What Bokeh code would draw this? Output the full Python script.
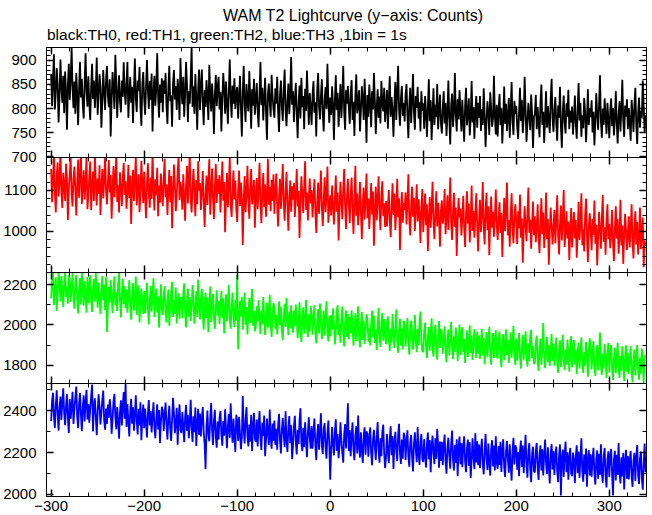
from bokeh.plotting import figure
from bokeh.layouts import column
from bokeh.models import LinearAxis, FixedTicker, Range1d, ColumnDataSource, CustomJSTickFormatter, Div
from bokeh.embed import file_html
from bokeh.resources import INLINE

# time grid (s): one value per 1 s bin, starting at -300
T_START = -300
T_STEP = 1

th0 = [
    872, 805, 861, 913, 798, 833, 884, 850, 771, 826, 902, 845, 812, 868, 790, 877, 835, 756, 849, 893,
    818, 861, 927, 842, 801, 856, 789, 874, 830, 765, 841, 897, 823, 862, 808, 779, 852, 915, 836, 804,
    867, 812, 776, 845, 893, 820, 858, 801, 838, 906, 787, 829, 871, 846, 760, 815, 880, 833, 797, 859,
    889, 826, 803, 861, 742, 818, 876, 840, 799, 912, 852, 781, 831, 869, 815, 792, 858, 824, 896, 837,
    808, 853, 897, 781, 829, 866, 812, 845, 770, 838, 904, 821, 793, 858, 836, 887, 803, 764, 849, 876,
    821, 787, 845, 901, 838, 799, 857, 818, 873, 752, 830, 868, 806, 842, 915, 824, 781, 850, 812, 863,
    792, 858, 831, 874, 805, 768, 843, 889, 815, 827, 762, 851, 880, 819, 846, 797, 862, 834, 776, 905,
    841, 809, 866, 783, 825, 897, 851, 772, 836, 810, 862, 928, 803, 847, 789, 872, 822, 756, 838, 881,
    797, 846, 881, 812, 765, 838, 803, 859, 824, 776, 891, 830, 794, 852, 817, 747, 829, 870, 805, 843,
    866, 798, 835, 752, 818, 874, 841, 789, 856, 813, 768, 835, 902, 822, 781, 848, 810, 863, 799, 831,
    845, 779, 823, 868, 801, 742, 836, 889, 810, 772, 851, 815, 794, 878, 825, 758, 840, 806, 862, 787,
    818, 853, 796, 761, 832, 897, 807, 843, 775, 821, 864, 790, 735, 829, 852, 811, 783, 870, 826, 799,
    781, 842, 810, 866, 793, 751, 827, 858, 802, 774, 839, 881, 796, 763, 815, 852, 788, 829, 907, 808,
    836, 772, 819, 853, 790, 738, 812, 848, 779, 864, 803, 826, 757, 841, 795, 879, 818, 766, 832, 801,
    766, 829, 857, 791, 813, 742, 838, 874, 805, 777, 826, 861, 788, 752, 819, 845, 799, 893, 814, 770,
    823, 787, 846, 808, 735, 816, 869, 797, 833, 762, 808, 851, 780, 824, 889, 793, 756, 838, 810, 847,
    801, 768, 832, 859, 776, 814, 743, 825, 871, 790, 809, 838, 752, 796, 846, 818, 776, 862, 801, 729,
    828, 783, 850, 812, 761, 836, 798, 874, 815, 747, 803, 840, 781, 825, 769, 857, 811, 794, 843, 772,
    806, 839, 758, 818, 867, 783, 824, 795, 741, 811, 855, 776, 832, 889, 798, 764, 821, 847, 785, 812,
    773, 829, 851, 786, 738, 807, 843, 770, 818, 872, 792, 756, 826, 801, 845, 779, 813, 752, 836, 795,
    811, 758, 826, 792, 741, 803, 861, 774, 817, 734, 789, 842, 765, 808, 782, 851, 757, 796, 829, 770,
    748, 801, 836, 769, 812, 743, 788, 858, 779, 725, 806, 831, 762, 794, 874, 786, 752, 819, 777, 838,
    795, 752, 818, 774, 731, 806, 843, 765, 789, 821, 744, 780, 857, 771, 803, 737, 796, 826, 760, 812,
    781, 826, 753, 799, 766, 842, 788, 720, 773, 815, 790, 745, 834, 801, 762, 779, 868, 784, 746, 808,
    742, 796, 830, 765, 801, 727, 779, 846, 768, 810, 753, 784, 822, 739, 797, 855, 772, 745, 816, 788,
    805, 762, 736, 791, 843, 774, 818, 749, 781, 866, 797, 731, 770, 812, 784, 755, 829, 791, 718, 782,
    789, 828, 757, 803, 771, 740, 812, 850, 766, 793, 728, 781, 836, 760, 805, 774, 749, 819, 862, 779,
    751, 798, 824, 769, 733, 806, 781, 845, 762, 718, 792, 827, 770, 748, 811, 783, 839, 757, 796, 771,
    804, 746, 781, 827, 769, 737, 798, 853, 775, 812, 741, 786, 759, 822, 794, 730, 777, 840, 765, 801,
    782, 817, 750, 793, 723, 771, 832, 788, 756, 808, 869, 774, 739, 800, 766, 821, 785, 747, 812, 778,
    738, 795, 821, 763, 801, 744, 779, 836, 770, 727, 788, 815, 752, 797, 860, 775, 741, 806, 783, 819,
    757, 801, 772, 733, 818, 789, 751, 808, 843, 766, 726, 791, 823, 760, 795, 781, 858, 804, 749, 786,
]

th1 = [
    1152, 1071, 1124, 1189, 1093, 1046, 1137, 1168, 1085, 1120, 1201, 1098, 1057, 1143, 1112, 1074, 1165, 1130, 1028, 1106,
    1139, 1182, 1090, 1061, 1127, 1158, 1102, 1039, 1116, 1175, 1082, 1134, 1195, 1067, 1109, 1149, 1078, 1121, 1186, 1054,
    1087, 1133, 1170, 1052, 1111, 1146, 1074, 1193, 1118, 1063, 1129, 1092, 1161, 1040, 1104, 1152, 1080, 1125, 1183, 1098,
    1066, 1119, 1174, 1095, 1138, 1031, 1101, 1159, 1083, 1127, 1190, 1072, 1113, 1046, 1144, 1108, 1062, 1131, 1167, 1089,
    1123, 1055, 1097, 1162, 1081, 1136, 1018, 1109, 1150, 1074, 1126, 1184, 1063, 1102, 1139, 1047, 1091, 1172, 1115, 1069,
    1145, 1084, 1032, 1118, 1166, 1093, 1058, 1131, 1079, 1197, 1104, 1051, 1127, 1088, 1155, 1037, 1112, 1070, 1141, 1096,
    1062, 1128, 1177, 1083, 1114, 1040, 1103, 1150, 1071, 1135, 1008, 1092, 1163, 1117, 1049, 1086, 1144, 1185, 1076, 1121,
    1101, 1053, 1139, 1087, 1026, 1112, 1160, 1068, 1130, 1194, 1079, 1046, 1108, 1152, 1094, 1037, 1125, 1066, 1171, 1099,
    1118, 1052, 1096, 1147, 1073, 1011, 1089, 1136, 1064, 1122, 1176, 1041, 1097, 1153, 1080, 1030, 1108, 1164, 1069, 1127,
    1092, 1137, 1046, 1104, 1170, 1075, 1121, 998, 1083, 1142, 1059, 1113, 1181, 1067, 1035, 1099, 1148, 1078, 1124, 1056,
    1023, 1101, 1148, 1062, 1119, 1084, 967, 1073, 1135, 1047, 1092, 1160, 1078, 1031, 1110, 1152, 1066, 1096, 1125, 1009,
    1088, 1130, 1054, 1103, 1167, 1071, 1020, 1097, 1142, 1059, 1114, 1036, 1081, 1177, 1065, 1108, 1049, 1126, 1074, 1139,
    1043, 1097, 1141, 1060, 1012, 1085, 1128, 1055, 1107, 1164, 1070, 1026, 1093, 1145, 1063, 1002, 1081, 1124, 1048, 1110,
    1077, 1118, 1035, 1090, 1152, 1061, 1099, 984, 1066, 1134, 1087, 1045, 1113, 1171, 1052, 1095, 1027, 1083, 1129, 1068,
    1101, 1034, 1082, 1127, 1050, 996, 1068, 1119, 1043, 1090, 1148, 1059, 1013, 1076, 1132, 1047, 1094, 1158, 1021, 1065,
    1088, 1039, 1112, 1066, 1017, 1079, 1136, 1048, 1095, 978, 1057, 1121, 1073, 1030, 1105, 1152, 1061, 1006, 1084, 1128,
    1067, 1020, 1089, 1131, 1051, 994, 1074, 1160, 1038, 1092, 1015, 1059, 1120, 1046, 981, 1071, 1107, 1029, 1083, 1141,
    1032, 1080, 1006, 1063, 1118, 1041, 1097, 965, 1052, 1109, 1027, 1076, 1134, 1049, 1003, 1088, 1122, 1037, 1068, 1011,
    1074, 1012, 1058, 1101, 1029, 986, 1063, 1117, 1040, 1092, 1003, 1049, 1128, 1035, 1081, 955, 1046, 1096, 1021, 1069,
    1052, 1095, 1017, 1071, 1139, 1028, 990, 1063, 1109, 1036, 1082, 1001, 1057, 1115, 1024, 1078, 1043, 972, 1060, 1103,
    998, 1047, 1092, 1015, 1066, 952, 1031, 1084, 1009, 1057, 1121, 1025, 981, 1043, 1098, 1012, 1070, 1029, 963, 1052,
    1076, 1019, 1041, 1103, 993, 1037, 1088, 1004, 1062, 1131, 1022, 979, 1049, 1094, 1011, 1058, 940, 1028, 1081, 1035,
    1056, 990, 1033, 1087, 1007, 962, 1045, 1098, 1019, 1068, 973, 1026, 1112, 1001, 1050, 985, 1039, 1093, 1014, 951,
    1030, 1077, 998, 1042, 1120, 1011, 968, 1053, 1094, 1003, 1061, 942, 1024, 1085, 1009, 1048, 987, 1036, 1102, 1017,
    979, 1031, 1071, 996, 1045, 938, 1013, 1082, 1001, 1054, 1119, 990, 1027, 963, 1040, 1093, 1008, 971, 1036, 1066,
    1022, 969, 1049, 1008, 1090, 985, 1032, 924, 1004, 1061, 1015, 976, 1043, 1107, 997, 1029, 958, 1018, 1073, 991,
    1037, 974, 1011, 1066, 985, 947, 1024, 1081, 993, 1046, 960, 1003, 1095, 981, 1030, 919, 999, 1058, 1014, 968,
    1009, 1052, 971, 1027, 1088, 990, 944, 1019, 1063, 978, 1035, 1101, 962, 1004, 1049, 983, 1024, 930, 996, 1057,
    961, 1015, 1047, 983, 1028, 936, 995, 1072, 979, 1021, 1093, 967, 1006, 951, 1039, 1080, 990, 925, 1012, 1044,
    1003, 954, 1031, 992, 1075, 970, 1016, 917, 986, 1048, 1002, 958, 1034, 1089, 975, 1010, 943, 1025, 1066, 981,
    1018, 959, 997, 1052, 972, 928, 1006, 1061, 983, 1030, 946, 991, 1077, 966, 1015, 921, 989, 1043, 1004, 955,
    992, 1037, 961, 1008, 1066, 975, 934, 1012, 1049, 968, 1023, 944, 987, 1058, 957, 999, 1034, 913, 978, 964,
]

th2 = [
    2132, 2221, 2257, 2098, 2184, 2236, 2069, 2158, 2262, 2201, 2117, 2243, 2165, 2088, 2212, 2260, 2139, 2190, 2105, 2248,
    2226, 2114, 2187, 2262, 2143, 2081, 2205, 2249, 2128, 2057, 2176, 2233, 2102, 2258, 2190, 2095, 2217, 2150, 2061, 2239,
    2108, 2197, 2248, 2126, 2064, 2181, 2229, 2117, 2262, 2153, 2086, 2210, 2141, 2055, 2174, 2243, 2122, 2199, 2073, 2236,
    1965, 2090, 2189, 2112, 2224, 2146, 2058, 2171, 2241, 2097, 2162, 2069, 2203, 2258, 2118, 2037, 2155, 2230, 2104, 2193,
    2083, 2175, 2061, 2144, 2222, 2098, 2026, 2156, 2207, 2071, 2129, 2240, 2049, 2138, 2195, 2013, 2102, 2181, 2119, 2055,
    2168, 2057, 2133, 2209, 2084, 2003, 2122, 2194, 2066, 2149, 2232, 2038, 2127, 2180, 2062, 2141, 1987, 2105, 2201, 2076,
    2049, 2146, 2193, 2067, 2012, 2118, 2176, 1996, 2092, 2163, 2214, 2040, 2124, 2055, 2185, 2008, 2099, 2157, 2031, 2137,
    2131, 2033, 2154, 2206, 2058, 1988, 2107, 2181, 2041, 2139, 2020, 2090, 2198, 2119, 2006, 2074, 2167, 2039, 2225, 2096,
    2027, 2128, 2179, 2052, 1977, 2100, 2161, 2035, 2136, 1964, 2083, 2190, 2013, 2109, 2154, 2031, 1981, 2094, 2172, 2046,
    2118, 2004, 2088, 2168, 2036, 2131, 1958, 2073, 2152, 2017, 2109, 2199, 2027, 1982, 2091, 2160, 2042, 1990, 2123, 2021,
    2250, 1880, 2019, 2120, 2041, 2140, 1976, 2068, 2161, 2002, 2089, 1953, 2055, 2133, 2010, 2101, 2178, 1996, 2072, 1969,
    1991, 2093, 2018, 2124, 2037, 1956, 2071, 2003, 2139, 2044, 1950, 2012, 2111, 1986, 2060, 2150, 2008, 1941, 2052, 2108,
    2087, 1981, 2050, 1953, 2021, 2117, 1999, 2090, 1972, 1925, 2043, 2105, 1990, 2134, 2031, 1949, 2066, 1984, 2098, 2010,
    1962, 2071, 1994, 2101, 2026, 1935, 2012, 2113, 1978, 1916, 2040, 2088, 1957, 2019, 2124, 1983, 1941, 2052, 1969, 2093,
    2061, 1952, 2029, 2097, 1971, 1909, 2015, 2079, 1958, 2106, 2020, 1930, 1998, 2072, 1947, 2038, 2117, 1966, 1918, 2046,
    1944, 2049, 1976, 2083, 2009, 1903, 1961, 2068, 2098, 1950, 2005, 1912, 2026, 2091, 1969, 1894, 2014, 2072, 1941, 2054,
    1930, 2039, 1957, 2073, 1992, 1897, 1970, 2058, 1921, 2006, 2092, 1948, 1889, 1998, 2064, 1926, 2021, 1906, 1969, 2053,
    2031, 1917, 1983, 1898, 2002, 2071, 1938, 2046, 1911, 1977, 1875, 1996, 2085, 1930, 1891, 2005, 2060, 1922, 2029, 1947,
    1905, 2012, 2043, 1929, 1872, 1981, 1913, 2054, 1961, 1886, 1979, 2076, 1920, 1862, 1966, 2031, 1898, 1984, 1879, 2021,
    2004, 1893, 1958, 2035, 1912, 1853, 1960, 2022, 1968, 1877, 1933, 2049, 1914, 1865, 1981, 1898, 2013, 2066, 1917, 1869,
    1867, 1975, 2012, 1889, 1836, 1944, 1990, 1873, 1958, 2033, 1881, 1843, 1949, 2001, 1912, 1828, 1953, 2019, 1886, 1980,
    1966, 1857, 1935, 1993, 1872, 1815, 1926, 1978, 1849, 1937, 2016, 1878, 1830, 1944, 1866, 1987, 1921, 1822, 1903, 2002,
    1850, 1958, 1989, 1865, 1932, 1812, 1898, 1973, 1842, 1925, 1998, 1860, 1946, 1827, 1893, 1980, 1911, 1836, 1967, 1858,
    1948, 1833, 1909, 1981, 1849, 1936, 1806, 1891, 1965, 1840, 1918, 1991, 1856, 1803, 1912, 1960, 1836, 1923, 1975, 1846,
    1834, 1939, 1967, 1844, 1791, 1902, 1955, 1826, 1910, 1978, 1851, 1926, 1812, 1886, 1964, 1838, 1915, 1996, 1850, 1802,
    1932, 1823, 1897, 1961, 1839, 1784, 1890, 1951, 1828, 1903, 1969, 1845, 1793, 1908, 1821, 1944, 1976, 1836, 1895, 1809,
    1810, 1915, 1947, 1826, 1772, 1879, 1933, 1803, 1889, 2010, 1832, 1786, 1886, 1941, 1817, 1901, 1797, 1872, 1955, 1823,
    1907, 1798, 1873, 1938, 1815, 1763, 1869, 1924, 1792, 1881, 1952, 1820, 1776, 1878, 1803, 1928, 1866, 1768, 1888, 1945,
    1790, 1897, 1925, 1804, 1880, 1756, 1858, 1913, 1785, 1870, 1939, 1810, 1762, 1866, 1798, 1916, 1853, 1744, 1872, 1934,
    1886, 1779, 1853, 1920, 1793, 1747, 1847, 1901, 1776, 1861, 1963, 1799, 1753, 1857, 1784, 1907, 1841, 1737, 1852, 1911,
    1765, 1871, 1901, 1780, 1728, 1836, 1888, 1761, 1842, 1912, 1783, 1738, 1846, 1773, 1894, 1830, 1722, 1834, 1899, 1768,
    1862, 1756, 1829, 1895, 1764, 1716, 1823, 1878, 1750, 1833, 1901, 1771, 1729, 1837, 1759, 1883, 1817, 1712, 1846, 1851,
]

th3 = [
    2351, 2447, 2486, 2372, 2318, 2429, 2498, 2383, 2305, 2414, 2468, 2356, 2439, 2507, 2390, 2331, 2423, 2479, 2364, 2293,
    2456, 2361, 2421, 2490, 2337, 2408, 2462, 2515, 2372, 2316, 2433, 2485, 2380, 2302, 2417, 2473, 2349, 2441, 2500, 2358,
    2432, 2343, 2407, 2470, 2525, 2301, 2416, 2459, 2369, 2283, 2398, 2478, 2421, 2334, 2389, 2451, 2496, 2352, 2309, 2410,
    2337, 2430, 2366, 2455, 2402, 2290, 2358, 2443, 2481, 2371, 2311, 2418, 2350, 2266, 2395, 2450, 2329, 2427, 2489, 2362,
    2530, 2322, 2432, 2349, 2277, 2394, 2457, 2338, 2416, 2305, 2381, 2474, 2352, 2286, 2409, 2330, 2440, 2259, 2368, 2429,
    2316, 2410, 2344, 2272, 2387, 2451, 2330, 2399, 2296, 2371, 2440, 2323, 2268, 2362, 2431, 2310, 2403, 2246, 2347, 2419,
    2402, 2303, 2378, 2439, 2331, 2262, 2365, 2424, 2316, 2255, 2358, 2462, 2389, 2293, 2341, 2414, 2238, 2363, 2430, 2307,
    2293, 2395, 2327, 2250, 2367, 2428, 2303, 2380, 2268, 2344, 2452, 2318, 2251, 2373, 2297, 2415, 2231, 2335, 2409, 2284,
    2386, 2277, 2362, 2417, 2299, 2240, 2120, 2325, 2401, 2283, 2254, 2361, 2438, 2307, 2236, 2352, 2405, 2273, 2223, 2348,
    2262, 2368, 2399, 2288, 2233, 2351, 2281, 2407, 2309, 2221, 2329, 2385, 2270, 2436, 2317, 2247, 2362, 2276, 2202, 2381,
    2349, 2255, 2371, 2291, 2216, 2274, 2470, 2311, 2243, 2359, 2418, 2281, 2229, 2334, 2252, 2380, 2207, 2325, 2390, 2266,
    2250, 2358, 2229, 2331, 2398, 2267, 2212, 2343, 2279, 2377, 2183, 2264, 2362, 2296, 2235, 2406, 2273, 2218, 2339, 2255,
    2353, 2238, 2314, 2213, 2332, 2385, 2258, 2196, 2307, 2366, 2285, 2226, 2397, 2261, 2203, 2318, 2374, 2245, 2331, 2168,
    2233, 2329, 2376, 2251, 2191, 2309, 2240, 2354, 2412, 2244, 2207, 2318, 2226, 2345, 2262, 2178, 2296, 2368, 2271, 2219,
    2327, 2218, 2297, 2362, 2236, 2163, 2284, 2336, 2214, 2305, 2388, 2231, 2193, 2313, 2341, 2222, 2171, 2292, 2353, 2240,
    2070, 2217, 2322, 2239, 2186, 2304, 2359, 2208, 2290, 2173, 2232, 2345, 2258, 2199, 2152, 2287, 2336, 2219, 2316, 2435,
    2206, 2306, 2183, 2284, 2344, 2215, 2163, 2279, 2327, 2196, 2377, 2230, 2176, 2297, 2209, 2150, 2283, 2321, 2190, 2301,
    2291, 2180, 2272, 2320, 2199, 2139, 2261, 2309, 2228, 2164, 2279, 2346, 2207, 2152, 2268, 2182, 2297, 2334, 2195, 2127,
    2178, 2288, 2206, 2149, 2266, 2325, 2187, 2279, 2122, 2245, 2299, 2211, 2159, 2283, 2337, 2193, 2146, 2262, 2171, 2295,
    2278, 2164, 2255, 2306, 2182, 2132, 2249, 2284, 2176, 2110, 2242, 2297, 2214, 2154, 2322, 2190, 2141, 2254, 2289, 2169,
    2155, 2264, 2180, 2129, 2245, 2296, 2167, 2260, 2106, 2232, 2281, 2196, 2145, 2268, 2171, 2314, 2237, 2128, 2253, 2160,
    2252, 2140, 2233, 2286, 2159, 2099, 2224, 2271, 2183, 2123, 2241, 2305, 2166, 2115, 2237, 2150, 2263, 2087, 2226, 2276,
    2144, 2246, 2130, 2227, 2278, 2157, 2106, 2221, 2262, 2137, 2249, 2079, 2162, 2268, 2181, 2120, 2292, 2153, 2254, 2139,
    2238, 2126, 2214, 2266, 2146, 2096, 2206, 2289, 2174, 2117, 2243, 2150, 2090, 2218, 2259, 2133, 2233, 2114, 2278, 2152,
    2121, 2231, 2139, 2252, 2107, 2213, 2264, 2130, 2083, 2206, 2255, 2166, 2104, 2239, 2137, 2066, 2210, 2271, 2143, 2234,
    2223, 2118, 2203, 2087, 2210, 2257, 2131, 2234, 2101, 2196, 2285, 2138, 2080, 2205, 2245, 2122, 2058, 2192, 2228, 2110,
    2105, 2212, 2246, 2124, 2069, 2193, 2234, 2114, 2216, 2091, 2187, 2262, 2150, 2097, 2225, 2129, 2052, 2197, 2240, 2119,
    2209, 2093, 2190, 2229, 2112, 2058, 2184, 2239, 1995, 2175, 2214, 2083, 2195, 2253, 2106, 2201, 2070, 2177, 2222, 2099,
    2087, 2200, 2167, 2054, 2183, 2235, 2101, 2205, 2078, 2176, 2268, 2110, 2061, 2191, 2096, 2219, 2037, 2170, 2212, 2091,
    2192, 2084, 2173, 2223, 2098, 2047, 2168, 2210, 2075, 2194, 2093, 2240, 2102, 2056, 2182, 2222, 2089, 2033, 2164, 2206,
    2083, 2185, 2217, 2096, 1995, 2166, 2208, 2067, 2189, 2093, 2245, 2104, 2052, 2177, 2086, 2199, 2023, 2161, 2213, 2075,
    2183, 2071, 2168, 2207, 2087, 2036, 2159, 2199, 2064, 2178, 2236, 2093, 2050, 2172, 2204, 2078, 2022, 2152, 2243, 2106,
]

x_ticks = [-300, -200, -100, 0, 100, 200, 300]
x_labels = ["\u2212300", "\u2212200", "\u2212100", "0", "100", "200", "300"]
x_minor = list(range(-300, 341, 20))

panels = [
    dict(y=th0, color="#000000", yr=(698, 927), major=[700, 750, 800, 850, 900], minor=list(range(700, 921, 10)), fh=110),
    dict(y=th1, color="#ff0000", yr=(900, 1180), major=[1000, 1100], minor=list(range(900, 1181, 20)), fh=115),
    dict(y=th2, color="#00ff00", yr=(1710, 2260), major=[1800, 2000, 2200], minor=list(range(1800, 2201, 100)), fh=111),
    dict(y=th3, color="#0000ff", yr=(1990, 2530), major=[2000, 2200, 2400], minor=list(range(2000, 2501, 100)), fh=113),
]

TITLE = "WAM T2 Lightcurve (y\u2212axis: Counts)"
SUBTITLE = "black:TH0, red:TH1, green:TH2, blue:TH3 ,1bin = 1s"

FONT = "Liberation Sans"
OVERLAP = 7
xr = Range1d(-305, 340)
blank = CustomJSTickFormatter(code="return ''")

header = Div(
    text=(
        '<div style="position:relative;width:649px;height:47px;font-family:\'Liberation Sans\';color:black;">'
        '<div style="position:absolute;left:53px;top:7px;width:600px;text-align:center;'
        'font-size:16px;line-height:normal;white-space:nowrap;">%s</div>'
        '<div style="position:absolute;left:47px;top:26px;font-size:15.5px;line-height:normal;'
        'white-space:nowrap;">%s</div></div>' % (TITLE, SUBTITLE)
    ),
    width=649,
    height=47,
    margin=(0, 0, 0, 0),
)


def style_axis(ax, show_labels):
    ax.major_tick_in = 7
    ax.major_tick_out = 0
    ax.minor_tick_in = 4
    ax.minor_tick_out = 0
    ax.axis_line_color = "black"
    ax.major_tick_line_color = "black"
    ax.minor_tick_line_color = "black"
    ax.major_tick_line_width = 1.5
    ax.minor_tick_line_width = 1
    if show_labels:
        ax.major_label_text_font = FONT
        ax.major_label_text_font_size = "15px"
        ax.major_label_text_color = "black"
        ax.major_label_standoff = 10
    else:
        ax.formatter = blank
        ax.major_label_standoff = 0


figs = [header]
n = len(panels)
for i, pd_ in enumerate(panels):
    first = i == 0
    last = i == n - 1
    kw = {}
    if not first:
        kw["styles"] = {"margin-top": "-%dpx" % OVERLAP}
    p = figure(
        frame_width=600,
        frame_height=pd_["fh"],
        x_range=xr,
        y_range=Range1d(*pd_["yr"]),
        output_backend="svg",
        toolbar_location=None,
        x_axis_location=None,
        y_axis_location=None,
        min_border=0,
        min_border_left=45,
        min_border_right=4,
        min_border_bottom=0 if last else OVERLAP,
        min_border_top=0,
        **kw,
    )
    p.title.visible = False
    p.background_fill_color = "white"
    p.border_fill_color = "white"
    if not first:
        p.border_fill_alpha = 0
    p.outline_line_color = "black"
    p.grid.visible = False

    yt = FixedTicker(ticks=pd_["major"], minor_ticks=pd_["minor"])
    xt = FixedTicker(ticks=x_ticks, minor_ticks=x_minor)

    left = LinearAxis(ticker=yt)
    style_axis(left, True)
    right = LinearAxis(ticker=yt)
    style_axis(right, False)
    top = LinearAxis(ticker=xt)
    style_axis(top, False)
    bottom = LinearAxis(ticker=xt)
    style_axis(bottom, last)
    if last:
        bottom.major_label_overrides = dict(zip(x_ticks, x_labels))
        bottom.major_label_standoff = 4

    p.add_layout(left, "left")
    p.add_layout(right, "right")
    p.add_layout(bottom, "below")
    p.add_layout(top, "above")

    xs = [T_START + T_STEP * k for k in range(len(pd_["y"]))]
    src = ColumnDataSource(dict(x=xs, y=pd_["y"]))
    p.line("x", "y", source=src, line_color=pd_["color"], line_width=1.8)
    figs.append(p)

layout = column(*figs, spacing=0)
open("out.html", "w").write(file_html(layout, INLINE))
